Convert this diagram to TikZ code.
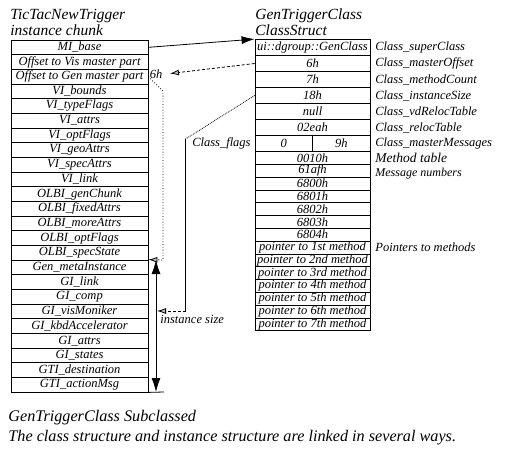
\documentclass[tikz,border=0pt]{standalone}
\usepackage{fontspec}
\setmainfont{Liberation Serif}
\usetikzlibrary{arrows.meta}

\begin{document}
\begin{tikzpicture}[x=1pt, y=-1pt, line width=0.8pt,
    every node/.style={anchor=center, font=\fontsize{12.5}{13}\selectfont\itshape},
    title/.style={anchor=base west, inner sep=0pt, font=\fontsize{15.5}{16}\selectfont\itshape},
    field/.style={draw, inner sep=0pt, minimum width=137pt, minimum height=14.67pt},
    slot/.style={draw, inner sep=0pt, minimum width=115pt, minimum height=16pt},
    half/.style={draw, inner sep=0pt, minimum width=57.5pt, minimum height=16pt},
    entry/.style={draw, inner sep=0pt, minimum width=115pt, minimum height=12.8pt},
    fieldname/.style={anchor=west, inner sep=0pt},
    link/.style={-{Latex[length=13pt, width=8pt]}},
    hatch/.style={-{Latex[length=9pt, width=6pt, fill=gray!50]}},
    measure/.style={{Latex[length=14pt, width=9pt]}-{Latex[length=14pt, width=9pt]}}
    ]
\useasboundingbox (0,0) rectangle (515,450);

% Titles
\node[title] (inst title) at (10,19.5) {TicTacNewTrigger};
\node[title] (inst sub) at (10,35.5) {instance chunk};
\node[title] (class title) at (255,19.5) {GenTriggerClass};
\node[title] (class sub) at (255,35.5) {ClassStruct};

% Instance chunk
\node[field] (i1) at (79.5,47.33) {MI\_base};
\node[field] (i2) at (79.5,62.00) {Offset to Vis master part};
\node[field] (i3) at (79.5,76.67) {Offset to Gen master part};
\node[field] (i4) at (79.5,91.33) {VI\_bounds};
\node[field] (i5) at (79.5,106.00) {VI\_typeFlags};
\node[field] (i6) at (79.5,120.67) {VI\_attrs};
\node[field] (i7) at (79.5,135.33) {VI\_optFlags};
\node[field] (i8) at (79.5,150.00) {VI\_geoAttrs};
\node[field] (i9) at (79.5,164.67) {VI\_specAttrs};
\node[field] (i10) at (79.5,179.33) {VI\_link};
\node[field] (i11) at (79.5,194.00) {OLBI\_genChunk};
\node[field] (i12) at (79.5,208.67) {OLBI\_fixedAttrs};
\node[field] (i13) at (79.5,223.33) {OLBI\_moreAttrs};
\node[field] (i14) at (79.5,238.00) {OLBI\_optFlags};
\node[field] (i15) at (79.5,252.67) {OLBI\_specState};
\node[field] (i16) at (79.5,267.33) {Gen\_metaInstance};
\node[field] (i17) at (79.5,282.00) {GI\_link};
\node[field] (i18) at (79.5,296.67) {GI\_comp};
\node[field] (i19) at (79.5,311.33) {GI\_visMoniker};
\node[field] (i20) at (79.5,326.00) {GI\_kbdAccelerator};
\node[field] (i21) at (79.5,340.67) {GI\_attrs};
\node[field] (i22) at (79.5,355.33) {GI\_states};
\node[field] (i23) at (79.5,370.00) {GTI\_destination};
\node[field] (i24) at (79.5,384.67) {GTI\_actionMsg};

% Class structure
\node[slot] (c1) at (312.5,47.5) {ui::dgroup::GenClass};
\node[slot] (c2) at (312.5,63.5) {6h};
\node[slot] (c3) at (312.5,79.5) {7h};
\node[slot] (c4) at (312.5,95.5) {18h};
\node[slot] (c5) at (312.5,111.5) {null};
\node[slot] (c6) at (312.5,127.5) {02eah};
\node[half] (c7a) at (283.75,143.5) {0};
\node[half] (c7b) at (341.25,143.5) {9h};
\node[entry] (c8) at (312.5,157.9) {0010h};
\node[entry] (c9) at (312.5,170.7) {61afh};
\node[entry] (c10) at (312.5,183.5) {6800h};
\node[entry] (c11) at (312.5,196.3) {6801h};
\node[entry] (c12) at (312.5,209.1) {6802h};
\node[entry] (c13) at (312.5,221.9) {6803h};
\node[entry] (c14) at (312.5,234.7) {6804h};
\node[entry] (c15) at (312.5,247.5) {pointer to 1st method};
\node[entry] (c16) at (312.5,260.3) {pointer to 2nd method};
\node[entry] (c17) at (312.5,273.1) {pointer to 3rd method};
\node[entry] (c18) at (312.5,285.9) {pointer to 4th method};
\node[entry] (c19) at (312.5,298.7) {pointer to 5th method};
\node[entry] (c20) at (312.5,311.5) {pointer to 6th method};
\node[entry] (c21) at (312.5,324.3) {pointer to 7th method};

% Field names
\node[fieldname] (n1) at (375,47.5) {Class\_superClass};
\node[fieldname] (n2) at (375,63.5) {Class\_masterOffset};
\node[fieldname] (n3) at (375,79.5) {Class\_methodCount};
\node[fieldname] (n4) at (375,95.5) {Class\_instanceSize};
\node[fieldname] (n5) at (375,111.5) {Class\_vdRelocTable};
\node[fieldname] (n6) at (375,127.5) {Class\_relocTable};
\node[fieldname] (n7) at (375,143.5) {Class\_masterMessages};
\node[fieldname, anchor=base west, font=\fontsize{13.5}{14}\selectfont\itshape] (n8) at (375,162.5) {Method table};
\node[fieldname, anchor=base west, font=\fontsize{12}{13}\selectfont\itshape] (n9) at (375,176) {Message numbers};
\node[fieldname] (n10) at (375,247.5) {Pointers to methods};
\node[anchor=east, inner sep=0pt] (flags) at (251,143.5) {Class\_flags};

% Links between the two
\node (gentag) at (156,74) {6h};
\node[anchor=base west, inner sep=0pt] (sizetag) at (160,323) {instance size};
\coordinate (bend) at (185.5,139);
\coordinate (turn) at (185.5,311);
\coordinate (sizemid) at (157,311);
\coordinate (sizetop) at (156,260);
\coordinate (sizebot) at (156,392);

\draw[link] (i1.east) -- (c1.north west);
\draw[hatch, densely dashed, shorten >=4pt] (c2.west) -- (gentag.east);
\draw[hatch, dotted] (i3.east) -- (163,91) -- (163,260) -- (i16.north east);
\draw[densely dotted] (c4.west) -- (bend);
\draw (bend) -- (turn);
\draw[hatch, densely dashed] (turn) -- (sizemid);
\draw[measure] (sizetop) -- (sizebot);
\draw (i24.south east) -- (164,392);

% Caption
\node[title, font=\fontsize{16.2}{17}\selectfont\itshape] (cap1) at (8,421) {GenTriggerClass Subclassed};
\node[title, font=\fontsize{16.2}{17}\selectfont\itshape] (cap2) at (8,441.5) {The class structure and instance structure are linked in several ways.};

\end{tikzpicture}
\end{document}
